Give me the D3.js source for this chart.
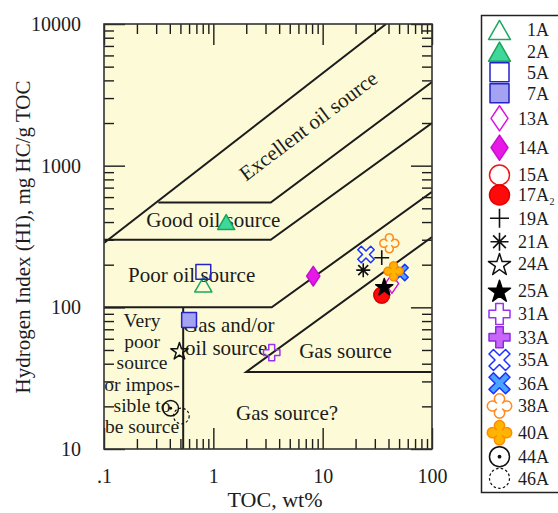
<!DOCTYPE html>
<html>
<head>
<meta charset="utf-8">
<script src="https://cdn.jsdelivr.net/npm/d3@7"></script>
<style>
  html, body { margin: 0; padding: 0; background: #fff; }
  svg { display: block; }
</style>
</head>
<body>
<svg id="chart" width="558" height="513"></svg>
<script>
// ---- Samples: TOC (wt%) and Hydrogen Index (mg HC/g TOC) ----
const samples = ["1A","2A","5A","7A","13A","14A","15A","17A","19A","21A","24A","25A","31A","33A","35A","36A","38A","40A","44A","46A"];
const tocValues = [0.81, 1.31, 0.81, 0.60, 43, 8.2, 34.7, 34.7, 34.7, 23.5, 0.49, 36.6, 3.42, null, 24.9, 51, 40.7, 44.5, 0.407, 0.51];
const hiValues  = [145, 400, 178, 81.4, 147, 166, 122, 122, 224, 183, 49.4, 140, 47.9, null, 236, 176, 283, 180, 19.4, 17.1];

// ---- Axis ticks ----
const xTickValues = [0.1, 1, 10, 100];
const xTickLabels = [".1", "1", "10", "100"];
const yTickValues = [10, 100, 1000, 10000];
const yTickLabels = ["10", "100", "1000", "10000"];

// ---- Source-rock field boundaries, as [TOC, HI] vertices ----
const boundaryExcellentTop = [[0.1, 285], [38, 10000]];
const boundaryExcellentGood = [[0.314, 550], [3.35, 550], [100, 3900]];
const boundaryGoodPoor = [[0.1, 300], [3.35, 300], [100, 2000]];
const boundaryPoorGas = [[0.1, 100], [3.42, 100], [100, 655]];
const boundaryGasSource = [[100, 35], [2, 35], [100, 314]];
const boundaryVeryPoor = [[0.53, 100], [0.53, 10]];

// ---- Field names, anchored at [TOC, HI] ----
const fieldNames = ["Excellent oil source", "Good oil source", "Poor oil source", "Gas and/or", "oil source", "Gas source", "Gas source?"];
const fieldToc = [7.4, 1.0, 0.634, 1.385, 1.31, 16.2, 4.72];
const fieldHi  = [1905, 371, 152, 67.3, 46.1, 43.7, 16.0];
const veryPoorLines = ["Very", "poor", "source", "or impos-", "sible to", "be source"];
const veryPoorAnchor = [0.2227, 72.6];

// ---- Marker styles per sample ----
const sampleStyle = {
  "1A":  { shape: "triangle",   stroke: "#1aa85e", fill: "none" },
  "2A":  { shape: "triangle",   stroke: "#19a35c", fill: "#3ed99a" },
  "5A":  { shape: "square",     stroke: "#2323c8", fill: "none" },
  "7A":  { shape: "square",     stroke: "#2323c8", fill: "#a3a3f2" },
  "13A": { shape: "diamond",    stroke: "#d914e0", fill: "none" },
  "14A": { shape: "diamond",    stroke: "#c40fcf", fill: "#e619e6" },
  "15A": { shape: "circle",     stroke: "#f41414", fill: "none" },
  "17A": { shape: "circle",     stroke: "#e00000", fill: "#ff0a0a" },
  "19A": { shape: "plus",       stroke: "#111",    fill: "none" },
  "21A": { shape: "asterisk",   stroke: "#111",    fill: "none" },
  "24A": { shape: "star",       stroke: "#111",    fill: "none" },
  "25A": { shape: "star",       stroke: "#000",    fill: "#000" },
  "31A": { shape: "cross",      stroke: "#9b30f0", fill: "none" },
  "33A": { shape: "cross",      stroke: "#8a2be2", fill: "#c866f5" },
  "35A": { shape: "xcross",     stroke: "#1a33ff", fill: "none" },
  "36A": { shape: "xcross",     stroke: "#1a33ff", fill: "#4aa3ff" },
  "38A": { shape: "clover",     stroke: "#ff8a1f", fill: "none" },
  "40A": { shape: "clover",     stroke: "#ff8c00", fill: "#ffb400" },
  "44A": { shape: "dotcircle",  stroke: "#111",    fill: "none" },
  "46A": { shape: "dashcircle", stroke: "#111",    fill: "none" }
};
// full width of each glyph in the legend, px
const shapeSize = { triangle: 22, square: 19, diamond: 17, circle: 20, plus: 19, asterisk: 18,
  star: 22, cross: 21, xcross: 21, clover: 25, dotcircle: 20, dashcircle: 20 };
const plotScale = 0.78;
const legendRowY = [30, 51.7, 72.3, 93.3, 118.3, 147.7, 175, 195, 218.3, 241.7, 264, 290.7, 314, 337.3, 360, 383.3, 406, 432.7, 456.7, 478.3];

// ---- Layout ----
const serif = '"Liberation Serif","Times New Roman",Times,serif';
const ink = "#1c1c1c";
const plot = { left: 104, right: 432, top: 24, bottom: 449 };

const svg = d3.select("#chart");
const x = d3.scaleLog().domain([0.1, 100]).range([plot.left, plot.right]);
const y = d3.scaleLog().domain([10, 10000]).range([plot.bottom, plot.top]);

svg.append("defs").append("clipPath").attr("id", "plotClip")
  .append("rect").attr("x", plot.left).attr("y", plot.top)
  .attr("width", plot.right - plot.left).attr("height", plot.bottom - plot.top);

svg.append("rect")
  .attr("x", plot.left).attr("y", plot.top)
  .attr("width", plot.right - plot.left).attr("height", plot.bottom - plot.top)
  .attr("fill", "#fdfbd7");

// minor tick values 2..9 x 10^k inside a domain
function minorTicks(lo, hi) {
  const out = [];
  for (let e = Math.floor(Math.log10(lo)); e < Math.log10(hi); e++) {
    for (let m = 2; m <= 9; m++) out.push(m * Math.pow(10, e));
  }
  return out;
}
const xMinor = minorTicks(0.1, 100);
const yMinor = minorTicks(10, 10000);

function styleTicks(g) {
  g.select(".domain").remove();
  g.selectAll(".tick line").attr("stroke", ink).attr("stroke-width", 1.4);
}

// inward ticks on all four sides
const axisDefs = [
  [d3.axisBottom(x), `translate(0,${plot.bottom})`, xMinor, xTickValues],
  [d3.axisTop(x), `translate(0,${plot.top})`, xMinor, xTickValues],
  [d3.axisLeft(y), `translate(${plot.left},0)`, yMinor, yTickValues],
  [d3.axisRight(y), `translate(${plot.right},0)`, yMinor, yTickValues]
];
axisDefs.forEach(([axis, tr, minor, major]) => {
  svg.append("g").attr("transform", tr)
    .call(axis.tickValues(minor).tickSize(-10).tickFormat(""))
    .call(styleTicks);
  svg.append("g").attr("transform", tr)
    .call(axis.tickValues(major).tickSize(-21).tickFormat(""))
    .call(styleTicks);
});

// tick labels
const xLabelAxis = svg.append("g").attr("transform", `translate(0,${plot.bottom})`)
  .call(d3.axisBottom(x).tickValues(xTickValues).tickSize(0).tickPadding(20)
    .tickFormat((d, i) => xTickLabels[i]));
xLabelAxis.select(".domain").remove();
xLabelAxis.attr("font-family", serif).attr("font-size", 20);
xLabelAxis.selectAll("text").attr("fill", ink);

const yLabelAxis = svg.append("g").attr("transform", `translate(${plot.left},0)`)
  .call(d3.axisLeft(y).tickValues(yTickValues).tickSize(0).tickPadding(23)
    .tickFormat((d, i) => yTickLabels[i]));
yLabelAxis.select(".domain").remove();
yLabelAxis.attr("font-family", serif).attr("font-size", 20);
yLabelAxis.selectAll("text").attr("fill", ink);

// axis titles
svg.append("text")
  .attr("x", 275).attr("y", 507)
  .attr("text-anchor", "middle")
  .attr("font-family", serif).attr("font-size", 22).attr("fill", ink)
  .text("TOC, wt%");
svg.append("text")
  .attr("transform", "translate(30,237) rotate(-90)")
  .attr("text-anchor", "middle")
  .attr("font-family", serif).attr("font-size", 21).attr("fill", ink)
  .text("Hydrogen Index (HI), mg HC/g TOC");

// field boundaries
const line = d3.line().x(d => x(d[0])).y(d => y(d[1]));
const boundaries = [boundaryExcellentTop, boundaryExcellentGood, boundaryGoodPoor,
  boundaryPoorGas, boundaryGasSource, boundaryVeryPoor];
svg.append("g").attr("clip-path", "url(#plotClip)")
  .selectAll("path").data(boundaries).join("path")
  .attr("d", line)
  .attr("fill", "none").attr("stroke", ink).attr("stroke-width", 2)
  .attr("stroke-linejoin", "miter");

// field names
const fieldG = svg.append("g").attr("font-family", serif).attr("font-size", 21).attr("fill", ink);
fieldNames.forEach((name, i) => {
  const t = fieldG.append("text").attr("text-anchor", "middle").text(name);
  if (i === 0) {
    t.attr("transform", `translate(${x(fieldToc[i])},${y(fieldHi[i])}) rotate(-37)`)
      .attr("dy", "0.33em");
  } else {
    t.attr("x", x(fieldToc[i])).attr("y", y(fieldHi[i]));
  }
});
const vp = svg.append("text")
  .attr("font-family", serif).attr("font-size", 19.5).attr("fill", ink)
  .attr("text-anchor", "middle")
  .attr("y", y(veryPoorAnchor[1]));
veryPoorLines.forEach((s, i) => {
  vp.append("tspan").attr("x", x(veryPoorAnchor[0])).attr("dy", i === 0 ? 0 : 21.2).text(s);
});

// marker glyphs; s is the full glyph width
function glyphPath(shape, s) {
  const p = d3.path(), r = s / 2;
  if (shape === "triangle") {
    const h = s * 0.87;
    p.moveTo(0, -h / 2); p.lineTo(r, h / 2); p.lineTo(-r, h / 2); p.closePath();
  } else if (shape === "square") {
    p.rect(-r, -r, s, s);
  } else if (shape === "diamond") {
    const h = s * 0.74;
    p.moveTo(0, -h); p.lineTo(r, 0); p.lineTo(0, h); p.lineTo(-r, 0); p.closePath();
  } else if (shape === "circle" || shape === "dotcircle" || shape === "dashcircle") {
    p.moveTo(r, 0); p.arc(0, 0, r, 0, 2 * Math.PI); p.closePath();
  } else if (shape === "plus") {
    p.moveTo(-r, 0); p.lineTo(r, 0); p.moveTo(0, -r); p.lineTo(0, r);
  } else if (shape === "asterisk") {
    for (let k = 0; k < 4; k++) {
      const a = k * Math.PI / 4;
      p.moveTo(r * Math.cos(a), r * Math.sin(a));
      p.lineTo(-r * Math.cos(a), -r * Math.sin(a));
    }
  } else if (shape === "star") {
    const R = s / 1.902, ri = R * 0.382;
    for (let k = 0; k < 10; k++) {
      const a = -Math.PI / 2 + k * Math.PI / 5, rr = k % 2 ? ri : R;
      const px = rr * Math.cos(a), py = rr * Math.sin(a) + R * 0.095;
      if (k === 0) p.moveTo(px, py); else p.lineTo(px, py);
    }
    p.closePath();
  } else if (shape === "cross" || shape === "xcross") {
    const rot = shape === "xcross" ? Math.PI / 4 : 0;
    const w = shape === "xcross" ? s * 0.15 : s * 0.18;
    const a = shape === "xcross" ? r * Math.SQRT2 - w : r;
    const pts = [[-w,-a],[w,-a],[w,-w],[a,-w],[a,w],[w,w],[w,a],[-w,a],[-w,w],[-a,w],[-a,-w],[-w,-w]];
    pts.forEach(([px, py], k) => {
      const qx = px * Math.cos(rot) - py * Math.sin(rot);
      const qy = px * Math.sin(rot) + py * Math.cos(rot);
      if (k === 0) p.moveTo(qx, qy); else p.lineTo(qx, qy);
    });
    p.closePath();
  } else if (shape === "clover") {
    const c = 0.24 * r, a = 0.57 * r;
    const b = Math.hypot(c, a - c), alpha = Math.atan2(c, a - c);
    const dirs = [-Math.PI / 2, 0, Math.PI / 2, Math.PI];
    dirs.forEach((phi, k) => {
      const cx = a * Math.cos(phi), cy = a * Math.sin(phi);
      const start = phi + Math.PI + alpha, end = phi + 3 * Math.PI - alpha;
      if (k === 0) p.moveTo(cx + b * Math.cos(start), cy + b * Math.sin(start));
      p.arc(cx, cy, b, start, end, false);
    });
    p.closePath();
  }
  return p.toString();
}

function drawGlyph(g, name, scale) {
  const st = sampleStyle[name];
  const s = shapeSize[st.shape] * scale;
  const isLine = st.shape === "plus" || st.shape === "asterisk";
  const path = g.append("path")
    .attr("d", glyphPath(st.shape, s))
    .attr("fill", isLine ? "none" : st.fill)
    .attr("stroke", st.stroke)
    .attr("stroke-width", isLine ? 1.6 : 1.5)
    .attr("stroke-linejoin", "round");
  if (st.shape === "dashcircle") path.attr("stroke-dasharray", "2.6,2.2").attr("stroke-width", 1.2);
  if (st.shape === "dotcircle") {
    g.append("circle").attr("r", 1.9 * scale).attr("fill", st.stroke);
  }
}

// sample points
const pts = samples.map((name, i) => ({ name, toc: tocValues[i], hi: hiValues[i] }))
  .filter(d => d.toc != null && d.hi != null);
const ptG = svg.append("g");
pts.forEach(d => {
  const g = ptG.append("g").attr("transform", `translate(${x(d.toc)},${y(d.hi)})`);
  drawGlyph(g, d.name, plotScale);
});

// plot frame
svg.append("rect")
  .attr("x", plot.left).attr("y", plot.top)
  .attr("width", plot.right - plot.left).attr("height", plot.bottom - plot.top)
  .attr("fill", "none").attr("stroke", "#333").attr("stroke-width", 1.6);

// legend
const legend = svg.append("g");
legend.append("rect")
  .attr("x", 481.5).attr("y", 15.5).attr("width", 100).attr("height", 477)
  .attr("fill", "#fff").attr("stroke", "#222").attr("stroke-width", 1.5);
samples.forEach((name, i) => {
  const ry = legendRowY[i];
  const g = legend.append("g").attr("transform", `translate(499.5,${ry})`);
  drawGlyph(g, name, 1);
  legend.append("text")
    .attr("x", 549).attr("y", ry + 6.3)
    .attr("text-anchor", "end")
    .attr("font-family", serif).attr("font-size", 18).attr("fill", ink)
    .text(name);
  if (name === "17A") {
    legend.append("text")
      .attr("x", 549.5).attr("y", ry + 9.5)
      .attr("font-family", serif).attr("font-size", 10).attr("fill", ink)
      .text("2");
  }
});
</script>
</body>
</html>
